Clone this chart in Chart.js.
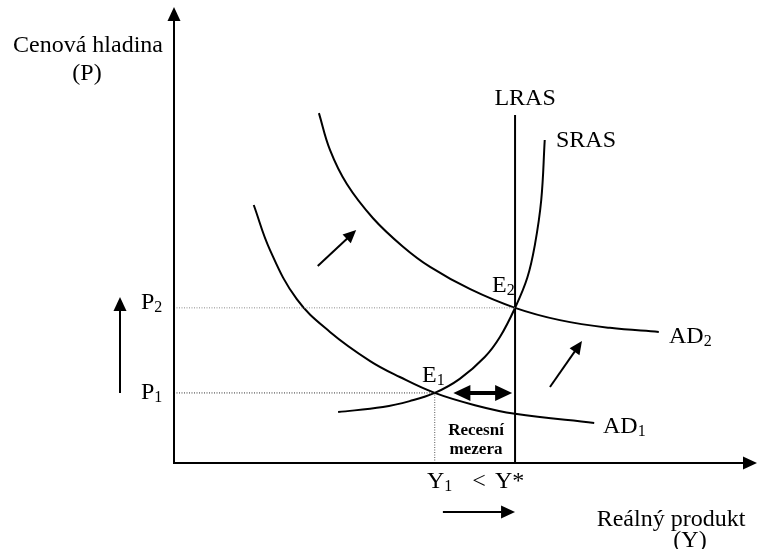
<!DOCTYPE html>
<html>
<head>
<meta charset="utf-8">
<script src="https://cdn.jsdelivr.net/npm/chart.js@4/dist/chart.umd.min.js"></script>
<style>
  body { margin: 0; background: #fff; }
  #wrap { width: 758px; height: 549px; position: relative; }
</style>
</head>
<body>
<div id="wrap"><canvas id="c"></canvas></div>
<script>
var srasX = [28.2, 35.9, 40.5, 44.8, 49.1, 53.4, 56.0, 58.6, 60.7, 62.0, 63.1, 63.7];
var srasY = [11.2, 12.3, 13.6, 15.4, 18.5, 23.3, 27.7, 34.1, 40.7, 47.9, 57.8, 71.0];
var ad1X = [13.7, 16.5, 21.1, 26.8, 33.7, 38.8, 44.8, 51.7, 58.6, 72.2];
var ad1Y = [56.7, 46.8, 36.0, 28.8, 22.4, 18.9, 15.4, 12.7, 10.8, 8.8];
var ad2X = [24.9, 26.8, 29.7, 34.2, 39.3, 44.0, 50.9, 58.6, 66.3, 74.9, 83.3];
var ad2Y = [76.9, 68.8, 61.3, 53.8, 47.6, 43.1, 38.2, 34.1, 31.4, 29.7, 28.8];
var lrasX = 58.6, lrasTop = 76.5;
var p1 = 15.4, p2 = 34.1, y1 = 44.8, yStar = 58.6;

function pts(xs, ys) {
	var out = [];
	for (var i = 0; i < xs.length; i++) out.push({ x: xs[i], y: ys[i] });
	return out;
}

var curve = function (label, data) {
	return { label: label, data: data, showLine: true, borderColor: '#000', borderWidth: 2,
		pointRadius: 0, fill: false, tension: 0.4 };
};
var guide = function (data, color) {
	return { data: data, showLine: true, borderColor: color, borderWidth: 1, borderDash: [1, 1.5],
		pointRadius: 0, fill: false };
};

function arrow(ctx, x0, y0, x1, y1, w, head, hw, both) {
	var a = Math.atan2(y1 - y0, x1 - x0);
	ctx.save();
	ctx.lineWidth = w;
	ctx.strokeStyle = '#000';
	ctx.fillStyle = '#000';
	var sx = both ? x0 + Math.cos(a) * head * 0.8 : x0, sy = both ? y0 + Math.sin(a) * head * 0.8 : y0;
	ctx.beginPath();
	ctx.moveTo(sx, sy);
	ctx.lineTo(x1 - Math.cos(a) * head * 0.8, y1 - Math.sin(a) * head * 0.8);
	ctx.stroke();
	var tip = function (tx, ty, ang) {
		ctx.beginPath();
		ctx.moveTo(tx, ty);
		ctx.lineTo(tx - Math.cos(ang) * head + Math.sin(ang) * hw / 2, ty - Math.sin(ang) * head - Math.cos(ang) * hw / 2);
		ctx.lineTo(tx - Math.cos(ang) * head - Math.sin(ang) * hw / 2, ty - Math.sin(ang) * head + Math.cos(ang) * hw / 2);
		ctx.closePath();
		ctx.fill();
	};
	tip(x1, y1, a);
	if (both) tip(x0, y0, a + Math.PI);
	ctx.restore();
}

function sub(ctx, main, s, x, y, size) {
	ctx.font = size + 'px "Liberation Serif"';
	ctx.textAlign = 'left';
	ctx.fillText(main, x, y);
	var w = ctx.measureText(main).width;
	ctx.font = Math.round(size * 0.68) + 'px "Liberation Serif"';
	ctx.fillText(s, x + w, y + size * 0.14);
}

var overlay = {
	id: 'overlay',
	afterDatasetsDraw: function (chart) {
		var ctx = chart.ctx, sx = chart.scales.x, sy = chart.scales.y;
		var px = function (v) { return sx.getPixelForValue(v); };
		var py = function (v) { return sy.getPixelForValue(v); };
		var a = chart.chartArea;
		ctx.save();
		// axes
		arrow(ctx, a.left, a.bottom + 1, a.left, a.top - 1, 2, 14, 13);
		arrow(ctx, a.left - 1, a.bottom, a.right + 1, a.bottom, 2, 14, 13);
		// shift arrows
		arrow(ctx, px(24.7), py(43.3), px(31.3), py(51.2), 2, 13, 12);
		arrow(ctx, px(64.6), py(16.7), px(70.1), py(26.8), 2, 13, 12);
		arrow(ctx, 120, py(15.4), 120, py(36.5), 2, 14, 13);
		arrow(ctx, px(46.2), 512, px(58.6), 512, 2, 14, 13);
		arrow(ctx, px(48.0), py(p1), px(58.1), py(p1), 4, 17, 16, true);

		ctx.fillStyle = '#000';
		ctx.textBaseline = 'alphabetic';
		ctx.font = '24px "Liberation Serif"';
		ctx.textAlign = 'center';
		ctx.fillText('Cenová hladina', 88, 52);
		ctx.fillText('(P)', 87, 80);
		ctx.fillText('LRAS', px(lrasX) + 10, 105);
		ctx.fillText('Reálný produkt', 671, 526);
		ctx.fillText('(Y)', 690, 547);
		ctx.fillText('<', 479, 488);
		ctx.textAlign = 'left';
		ctx.fillText('SRAS', 556, 147);
		ctx.fillText('Y*', 495, 488);
		sub(ctx, 'E', '2', 492, 292, 24);
		sub(ctx, 'E', '1', 422, 382, 24);
		sub(ctx, 'AD', '2', 669, 343, 24);
		sub(ctx, 'AD', '1', 603, 433, 24);
		sub(ctx, 'P', '2', 141, 309, 24);
		sub(ctx, 'P', '1', 141, 399, 24);
		sub(ctx, 'Y', '1', 427, 488, 24);
		ctx.font = 'bold 17px "Liberation Serif"';
		ctx.textAlign = 'center';
		ctx.fillText('Recesní', 476, 435);
		ctx.fillText('mezera', 476, 454);
		ctx.restore();
	}
};

new Chart(document.getElementById('c'), {
	type: 'scatter',
	data: {
		datasets: [
			guide([{ x: 0, y: p2 }, { x: yStar, y: p2 }], '#8a8a8a'),
			guide([{ x: 0, y: p1 }, { x: y1, y: p1 }], '#333'),
			guide([{ x: y1, y: 0 }, { x: y1, y: p1 }], '#555'),
			curve('SRAS', pts(srasX, srasY)),
			curve('AD1', pts(ad1X, ad1Y)),
			curve('AD2', pts(ad2X, ad2Y)),
			curve('LRAS', [{ x: lrasX, y: 0 }, { x: lrasX, y: lrasTop }])
		]
	},
	options: {
		responsive: true,
		maintainAspectRatio: false,
		animation: false,
		layout: { padding: { left: 174, right: 2, top: 8, bottom: 86 } },
		scales: {
			x: { type: 'linear', min: 0, max: 100, display: false },
			y: { type: 'linear', min: 0, max: 100, display: false }
		},
		plugins: { legend: { display: false }, tooltip: { enabled: false } }
	},
	plugins: [overlay]
});
</script>
</body>
</html>
